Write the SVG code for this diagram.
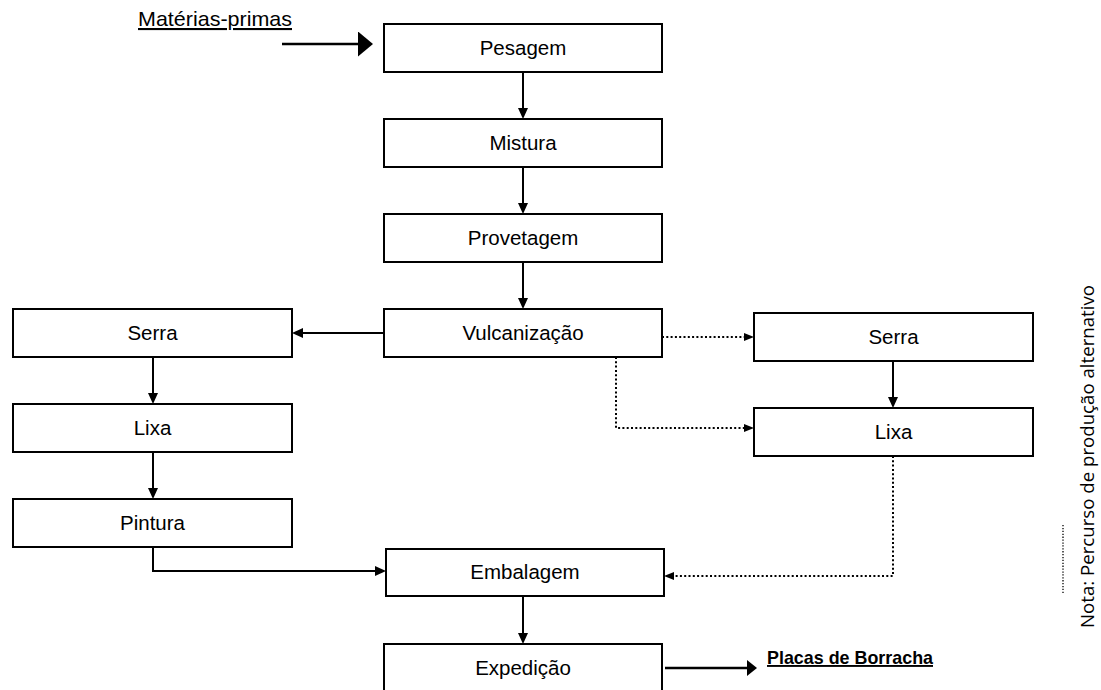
<svg xmlns="http://www.w3.org/2000/svg" width="1101" height="690" viewBox="0 0 1101 690">
<style>
.box{fill:#fff;stroke:#000;stroke-width:2}
.lbl{font-family:"Liberation Sans",Arial,sans-serif;font-size:20.5px;text-anchor:middle;fill:#000}
.ln{fill:none;stroke:#000;stroke-width:2}
.dot{fill:none;stroke:#000;stroke-width:2;stroke-dasharray:2 2.3}
</style>
<defs>
<marker id="ah" viewBox="0 0 11 10" markerWidth="11" markerHeight="10" refX="0" refY="5" orient="auto" markerUnits="userSpaceOnUse"><path d="M0,0 L11,5 L0,10 z" fill="#000"/></marker>
<marker id="ahd" viewBox="0 0 10 8" markerWidth="10" markerHeight="8" refX="0" refY="4" orient="auto" markerUnits="userSpaceOnUse"><path d="M0,0 L10,4 L0,8 z" fill="#000"/></marker>
<marker id="ahb" viewBox="0 0 15 25" markerWidth="15" markerHeight="25" refX="0" refY="12.5" orient="auto" markerUnits="userSpaceOnUse"><path d="M0,0 L15,12.5 L0,25 z" fill="#000"/></marker>
<marker id="ahe" viewBox="0 0 10 16" markerWidth="10" markerHeight="16" refX="0" refY="8" orient="auto" markerUnits="userSpaceOnUse"><path d="M0,0 L10,8 L0,16 z" fill="#000"/></marker>
</defs>
<rect width="1101" height="690" fill="#fff"/>
<g id="connectors">
<path class="ln" style="stroke-width:2.6" d="M282,44 H358" marker-end="url(#ahb)"/>
<path class="ln" d="M523,72 V108" marker-end="url(#ah)"/>
<path class="ln" d="M523,167 V203" marker-end="url(#ah)"/>
<path class="ln" d="M523,262 V298" marker-end="url(#ah)"/>
<path class="ln" d="M384,333 H303" marker-end="url(#ah)"/>
<path class="ln" d="M153,357 V393" marker-end="url(#ah)"/>
<path class="ln" d="M153,452 V488" marker-end="url(#ah)"/>
<path class="ln" d="M153,547 V571 H375" marker-end="url(#ah)"/>
<path class="ln" d="M893,361 V397" marker-end="url(#ah)"/>
<path class="ln" d="M523,596 V633" marker-end="url(#ah)"/>
<path class="ln" style="stroke-width:2.6" d="M665,668 H747" marker-end="url(#ahe)"/>
<path class="dot" d="M662,337 H744" marker-end="url(#ahd)"/>
<path class="dot" d="M616,357 V428 H744" marker-end="url(#ahd)"/>
<path class="dot" d="M893,456 V576 H674" marker-end="url(#ahd)"/>
</g>
<g id="materias-primas"><text x="138" y="26" style="font-family:'Liberation Sans',Arial,sans-serif;font-size:21px;text-decoration:underline" textLength="154" lengthAdjust="spacingAndGlyphs">Matérias-primas</text></g>
<g id="pesagem"><rect class="box" x="384" y="24" width="278" height="48"/><text class="lbl" x="523" y="55">Pesagem</text></g>
<g id="mistura"><rect class="box" x="384" y="119" width="278" height="48"/><text class="lbl" x="523" y="150">Mistura</text></g>
<g id="provetagem"><rect class="box" x="384" y="214" width="278" height="48"/><text class="lbl" x="523" y="245">Provetagem</text></g>
<g id="vulcanizacao"><rect class="box" x="384" y="309" width="278" height="48"/><text class="lbl" x="523" y="340">Vulcanização</text></g>
<g id="serra-esq"><rect class="box" x="13" y="309" width="279" height="48"/><text class="lbl" x="152.5" y="340">Serra</text></g>
<g id="lixa-esq"><rect class="box" x="13" y="404" width="279" height="48"/><text class="lbl" x="152.5" y="435">Lixa</text></g>
<g id="pintura"><rect class="box" x="13" y="499" width="279" height="48"/><text class="lbl" x="152.5" y="530">Pintura</text></g>
<g id="serra-dir"><rect class="box" x="754" y="313" width="279" height="48"/><text class="lbl" x="893.5" y="344">Serra</text></g>
<g id="lixa-dir"><rect class="box" x="754" y="408" width="279" height="48"/><text class="lbl" x="893.5" y="439">Lixa</text></g>
<g id="embalagem"><rect class="box" x="386" y="549" width="278" height="47"/><text class="lbl" x="525" y="579">Embalagem</text></g>
<g id="expedicao"><rect class="box" x="384" y="644" width="278" height="50"/><text class="lbl" x="523" y="675">Expedição</text></g>
<g id="placas"><text x="767" y="664" style="font-family:'Liberation Sans',Arial,sans-serif;font-size:19px;font-weight:bold;text-decoration:underline" textLength="166" lengthAdjust="spacingAndGlyphs">Placas de Borracha</text></g>
<g id="nota">
<line class="dot" style="stroke-width:1.3;stroke-dasharray:1.3 1.6" x1="1063" y1="525" x2="1063" y2="593"/>
<text transform="translate(1094,628) rotate(-90)" style="font-family:'Open Sans',sans-serif;font-size:18.5px" textLength="343" lengthAdjust="spacingAndGlyphs">Nota: Percurso de produção alternativo</text>
</g>
</svg>
